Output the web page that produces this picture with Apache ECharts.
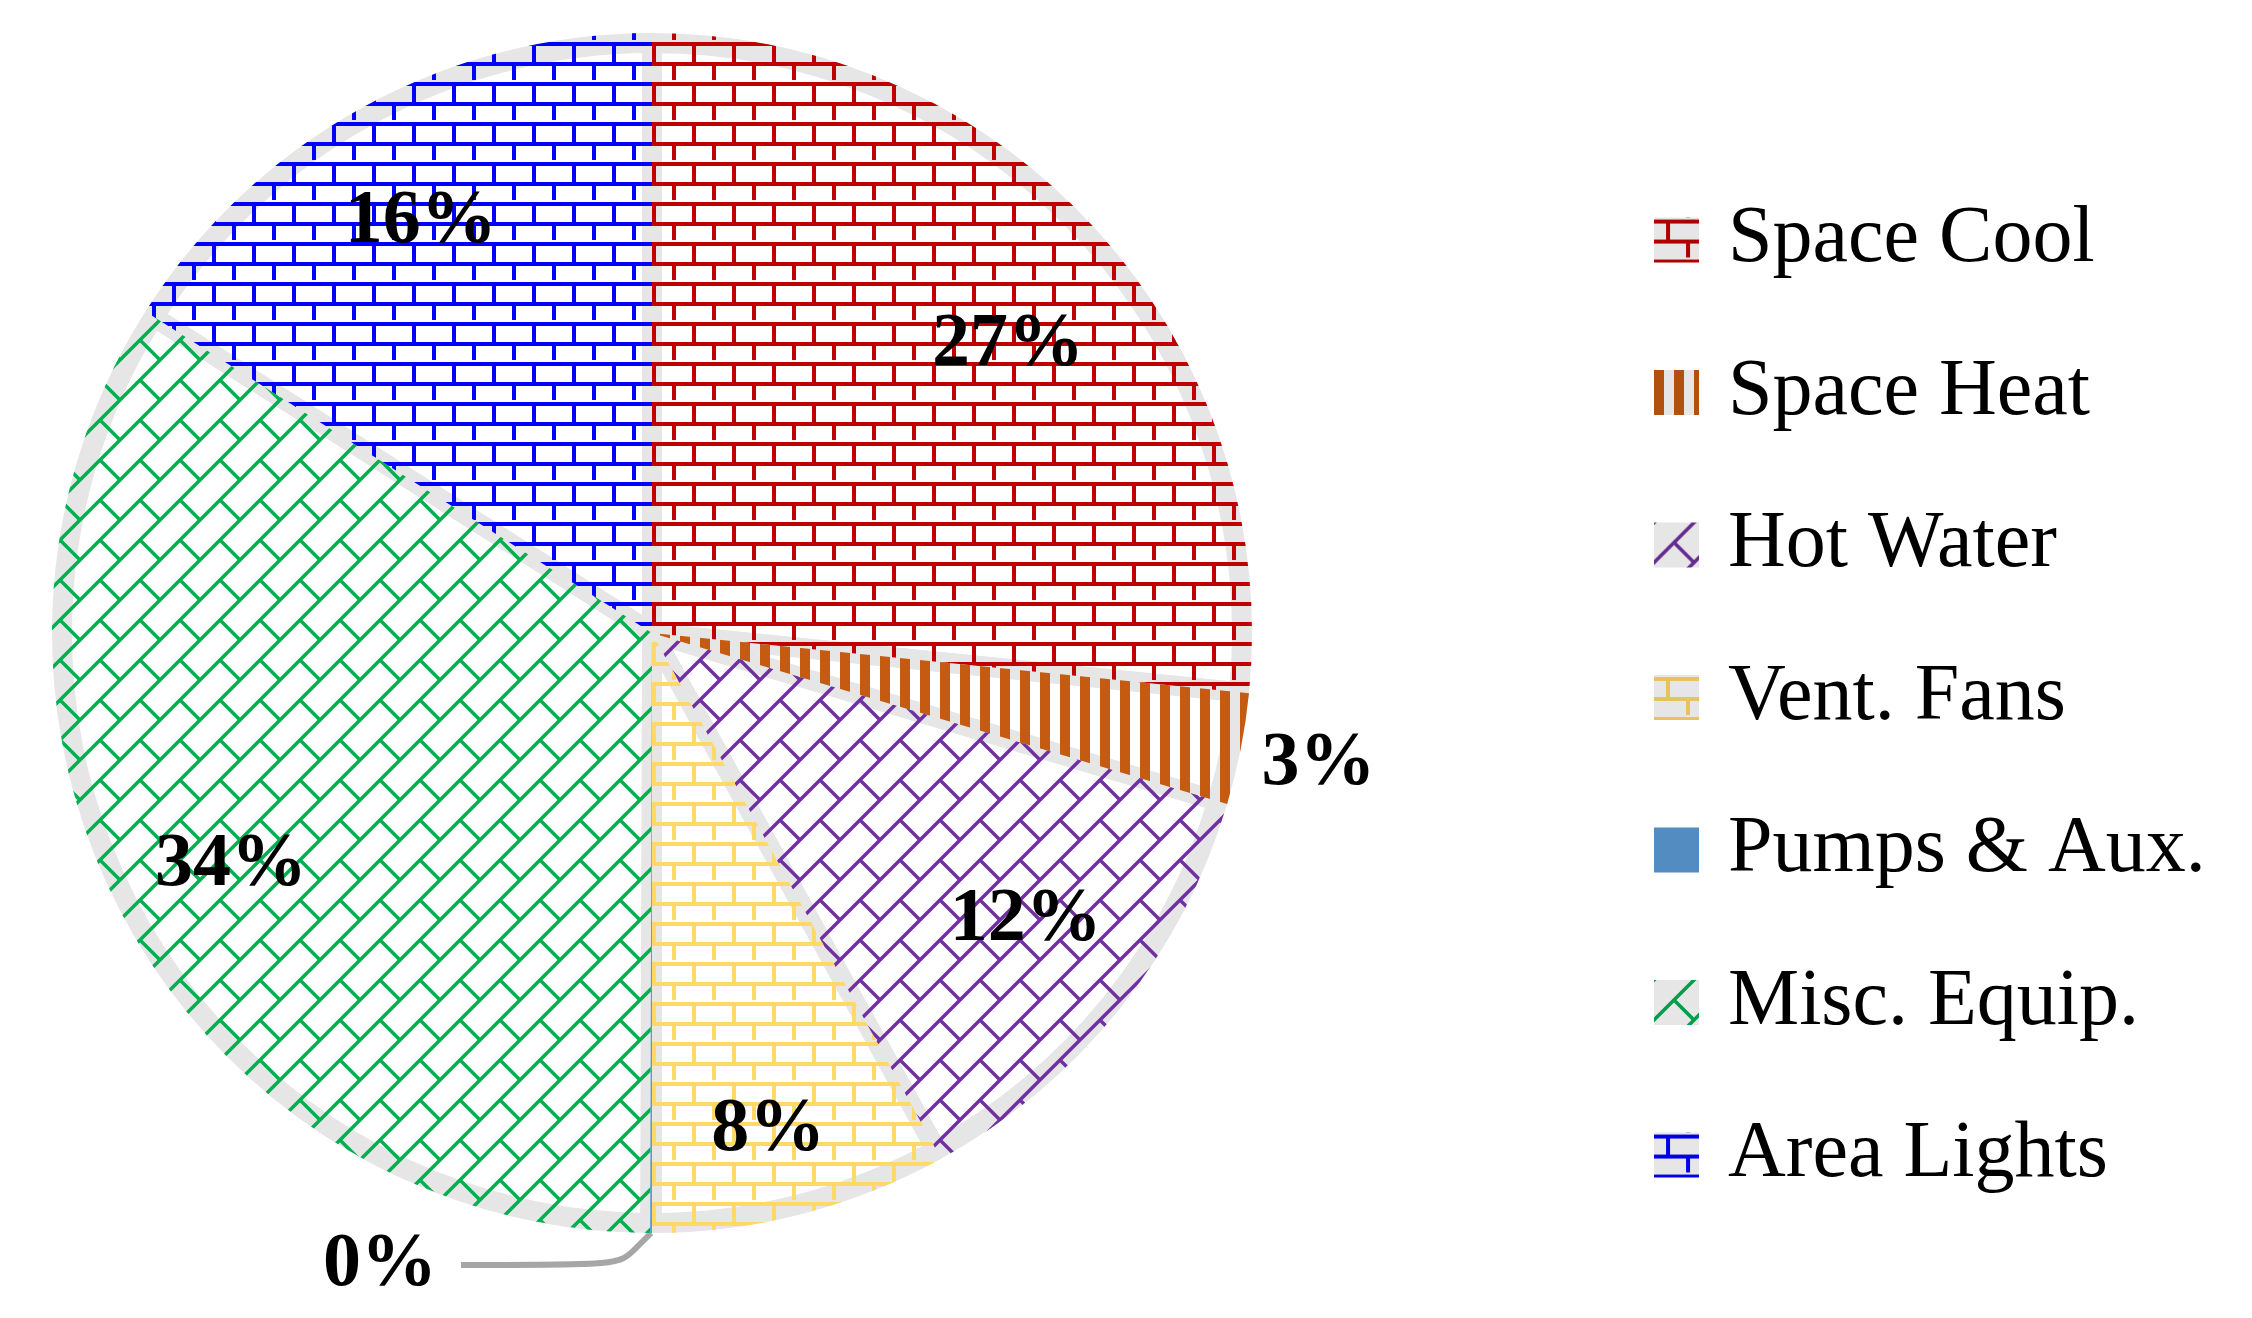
<!DOCTYPE html>
<html>
<head>
<meta charset="utf-8">
<script src="https://cdn.jsdelivr.net/npm/echarts@6/dist/echarts.min.js"></script>
<style>
html,body{margin:0;padding:0;background:#fff}
#chart{width:2252px;height:1318px}
</style>
</head>
<body>
<div id="chart"></div>
<script>
// energy end-use shares (percent)
const categories = ['Space Cool', 'Space Heat', 'Hot Water', 'Vent. Fans', 'Pumps & Aux.', 'Misc. Equip.', 'Area Lights']
const shares = [26.6, 3.0, 12.4, 8.0, 0.05, 33.95, 16.0]
const colors = ['#c00000', '#c55a11', '#7030a0', '#ffd966', '#5b9bd5', '#00b050', '#0000ff']
const fills = ['brick', 'stripe', 'diag', 'brick', 'solid', 'diag', 'brick']

const R = 600
const CENTER = [652, 633]
// small nudges so the labels sit where excel put them
const labelShift = [[0, 34], [4, 14], [0, -14], [-3, 32], [0, 0], [0, 2], [0, 10]]

function shade(hex, k) {
    const n = parseInt(hex.slice(1), 16)
    const r = Math.round(((n >> 16) & 255) * k)
    const g = Math.round(((n >> 8) & 255) * k)
    const b = Math.round((n & 255) * k)
    return 'rgb(' + r + ',' + g + ',' + b + ')'
}

// excel-like hatch fills
function makeFill(kind, color, bg) {
    if (kind === 'solid') return color
    const cv = document.createElement('canvas')
    cv.width = 40
    cv.height = 40
    const ctx = cv.getContext('2d')
    if (bg) {
        ctx.fillStyle = bg
        ctx.fillRect(0, 0, 40, 40)
    }
    ctx.fillStyle = color
    ctx.strokeStyle = color
    if (kind === 'brick') {
        ctx.fillRect(0, 2, 40, 4)
        ctx.fillRect(0, 22, 40, 4)
        ctx.fillRect(12, 6, 4, 16)
        ctx.fillRect(32, 26, 4, 16)
    } else if (kind === 'stripe') {
        ctx.fillRect(0, 0, 10, 40)
        ctx.fillRect(20, 0, 10, 40)
    } else if (kind === 'diag') {
        ctx.lineWidth = 3.5
        ctx.beginPath()
        ctx.moveTo(-10, 10); ctx.lineTo(10, -10)
        ctx.moveTo(-10, 50); ctx.lineTo(50, -10)
        ctx.moveTo(30, 50); ctx.lineTo(50, 30)
        ctx.moveTo(20, 20); ctx.lineTo(46, 46)
        ctx.moveTo(-20, -20); ctx.lineTo(0, 0)
        ctx.stroke()
    }
    return { image: cv, repeat: 'repeat' }
}

const chart = echarts.init(document.getElementById('chart'), null, { renderer: 'canvas' })

const baseData = categories.map((name, i) => ({ name, value: shares[i] }))

const patternData = categories.map((name, i) => ({
    name,
    value: shares[i],
    itemStyle: { color: makeFill(fills[i], colors[i], null) }
}))

const labelData = categories.map((name, i) => {
    const item = { name, value: shares[i] }
    if (name === 'Space Heat') {
        item.label = { position: 'outside', distanceToLabelLine: 5 }
        item.labelLine = { show: false, length: 8, length2: 4 }
    }
    if (name === 'Pumps & Aux.') {
        item.label = { position: 'outside', distanceToLabelLine: 24 }
        item.labelLine = { show: true, length: 32, length2: 190, smooth: 1, lineStyle: { color: '#a6a6a6', width: 6 } }
    }
    return item
})

const legendData = categories.map((name, i) => ({
    name,
    itemStyle: { color: makeFill(fills[i], shade(colors[i], 0.9), '#e6e6e6') }
}))

const option = {
    backgroundColor: '#fff',
    animation: false,
    legend: {
        orient: 'vertical',
        left: 1649,
        top: 195,
        icon: 'rect',
        itemWidth: 45,
        itemHeight: 45,
        itemGap: 72.5,
        selectedMode: false,
        itemStyle: { borderWidth: 0 },
        textStyle: {
            fontFamily: 'Liberation Serif',
            fontSize: 80,
            lineHeight: 80,
            color: '#000',
            padding: [0, 0, 0, 24]
        },
        data: legendData
    },
    series: [
        {
            // light grey slice outlines under the hatch
            type: 'pie',
            center: CENTER,
            radius: R - 10,
            startAngle: 90,
            silent: true,
            label: { show: false },
            labelLine: { show: false },
            itemStyle: { color: '#fff', borderColor: '#e6e6e6', borderWidth: 20, borderJoin: 'round' },
            emphasis: { disabled: true },
            data: baseData
        },
        {
            type: 'pie',
            center: CENTER,
            radius: R,
            startAngle: 90,
            silent: true,
            label: { show: false },
            labelLine: { show: false },
            itemStyle: { borderWidth: 0 },
            emphasis: { disabled: true },
            data: patternData
        },
        {
            // invisible ring that only carries the labels
            type: 'pie',
            center: CENTER,
            radius: [354, R],
            startAngle: 90,
            silent: true,
            avoidLabelOverlap: false,
            itemStyle: { color: 'rgba(0,0,0,0)', borderWidth: 0 },
            emphasis: { disabled: true },
            label: {
                show: true,
                position: 'inside',
                fontFamily: 'Liberation Serif',
                fontWeight: 'bold',
                fontSize: 76,
                color: '#000',
                formatter: p => Math.round(p.percent) + '%'
            },
            labelLine: { show: false },
            labelLayout: p => ({ dx: labelShift[p.dataIndex][0], dy: labelShift[p.dataIndex][1] }),
            data: labelData
        }
    ]
}

chart.setOption(option)
</script>
</body>
</html>
